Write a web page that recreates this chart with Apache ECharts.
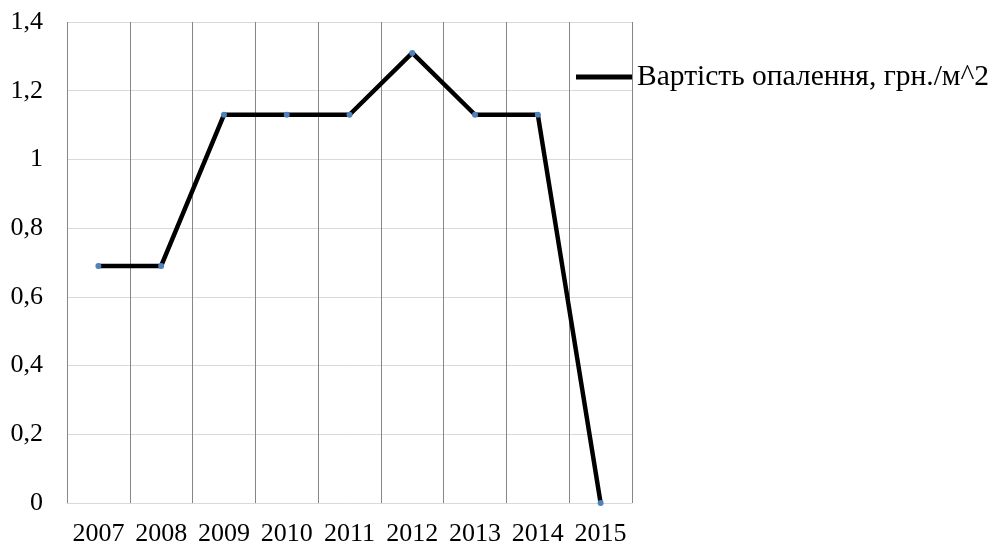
<!DOCTYPE html>
<html>
<head>
<meta charset="utf-8">
<script src="https://cdn.jsdelivr.net/npm/echarts@6/dist/echarts.min.js"></script>
<style>
  html, body { margin: 0; padding: 0; background: #fff; }
  #chart { width: 996px; height: 550px; }
</style>
</head>
<body>
<div id="chart"></div>
<script>
// дані з рисунка
const years = ['2007', '2008', '2009', '2010', '2011', '2012', '2013', '2014', '2015']
const heatingCost = [0.69, 0.69, 1.13, 1.13, 1.13, 1.31, 1.13, 1.13, 0]
const seriesName = 'Вартість опалення, грн./м^2'

const font = '"Liberation Serif", "Times New Roman", serif'

const chart = echarts.init(document.getElementById('chart'))

chart.setOption({
  animation: false,
  textStyle: { fontFamily: font },
  grid: {
    left: 67,
    right: 364,
    top: 22,
    bottom: 47
  },
  legend: {
    data: [seriesName],
    left: 576,
    top: 62,
    padding: 0,
    icon: 'rect',
    itemWidth: 56,
    itemHeight: 5,
    itemStyle: { color: '#000' },
    textStyle: { fontFamily: font, fontSize: 29.5, color: '#000' }
  },
  xAxis: {
    type: 'category',
    data: years,
    boundaryGap: true,
    axisLine: { show: true, lineStyle: { color: '#d9d9d9', width: 1 } },
    axisTick: { show: false },
    axisLabel: { fontFamily: font, fontSize: 26, color: '#000', margin: 18, interval: 0 },
    splitLine: { show: true, interval: 0, lineStyle: { color: '#868686', width: 1 } }
  },
  yAxis: {
    type: 'value',
    min: 0,
    max: 1.4,
    interval: 0.2,
    axisLine: { show: false },
    axisTick: { show: false },
    axisLabel: {
      fontFamily: font,
      fontSize: 26,
      color: '#000',
      margin: 24,
      formatter: v => String(Math.round(v * 10) / 10).replace('.', ',')
    },
    splitLine: { show: true, lineStyle: { color: '#d9d9d9', width: 1 } }
  },
  series: [
    {
      name: seriesName,
      type: 'line',
      data: heatingCost,
      symbol: 'circle',
      symbolSize: 6,
      showAllSymbol: true,
      lineStyle: { color: '#000', width: 4.5 },
      itemStyle: { color: '#4f81bd' },
      z: 3
    }
  ]
})
</script>
</body>
</html>
